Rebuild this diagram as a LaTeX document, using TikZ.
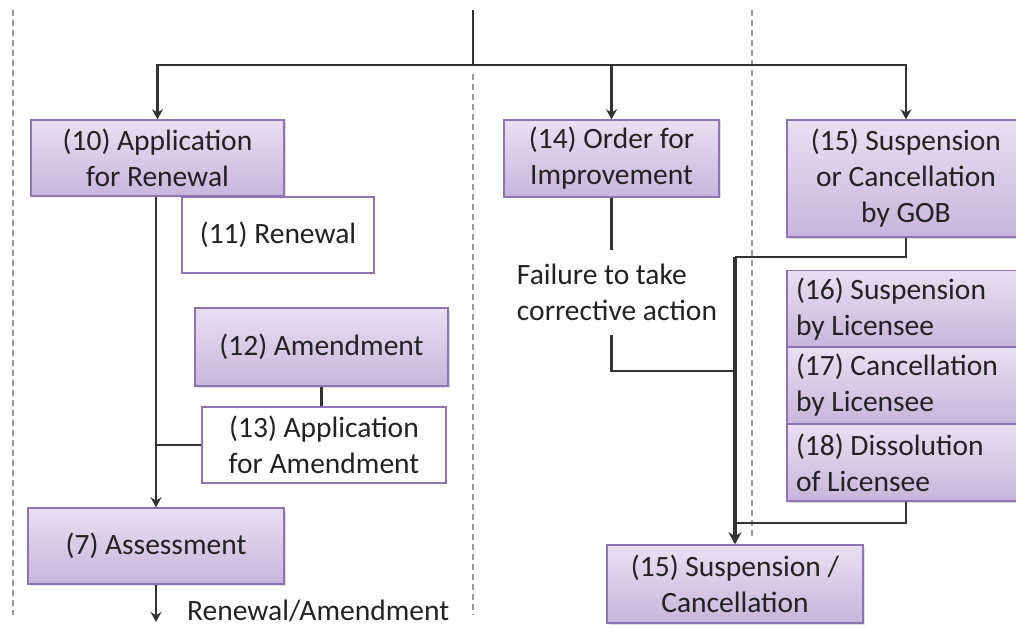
\documentclass[tikz,border=0pt]{standalone}
\usepackage{fontspec}
\setmainfont{Carlito}
\usetikzlibrary{arrows.meta,shadows}
\definecolor{boxedge}{HTML}{8E74B4}
\definecolor{boxtop}{HTML}{E8E0F1}
\definecolor{boxbot}{HTML}{C7B5DC}
\definecolor{wire}{HTML}{333333}
\definecolor{divider}{HTML}{9A9A9A}
\definecolor{ink}{HTML}{222222}
\tikzset{
  textfont/.style={font=\fontsize{29.5}{36}\selectfont},
  base/.style={draw=boxedge, line width=1.4pt, inner sep=0pt, align=center,
    text=ink, textfont},
  filledbox/.style={base, top color=boxtop, bottom color=boxbot,
    drop shadow={shadow xshift=1.5pt, shadow yshift=-1.5pt, opacity=0.25}},
  plainbox/.style={base, fill=white},
  stackbox/.style={filledbox, align=flush left, text width=220pt, inner xsep=9pt,
    minimum width=238pt, minimum height=77pt},
  wireline/.style={draw=wire, line width=2.1pt},
  arrowline/.style={wireline, -{Stealth[length=10pt,width=11pt]}},
  mainarrow/.style={draw=wire, line width=3.6pt, -{Stealth[length=12pt,width=13pt]}},
  dividerline/.style={draw=divider, line width=1.3pt, dash pattern=on 6pt off 4pt},
  label/.style={text=ink, textfont, align=left, inner sep=0pt}
}
\begin{document}
\begin{tikzpicture}[x=1pt, y=-1pt]
\useasboundingbox (0,0) rectangle (1016,628);

% column dividers
\draw[dividerline] (13,10) -- (13,615);
\draw[dividerline] (473,74) -- (473,615);
\draw[dividerline] (752,10) -- (752,540);

% boxes
\node[filledbox, minimum width=253pt, minimum height=76pt] (n10) at (157.5,158) {(10) Application\\for Renewal};
\node[plainbox, minimum width=192pt, minimum height=76pt] (n11) at (278,235) {(11) Renewal};
\node[filledbox, minimum width=253pt, minimum height=78pt] (n12) at (321.5,347) {(12) Amendment};
\node[plainbox, minimum width=244pt, minimum height=76pt] (n13) at (324,445) {(13) Application\\for Amendment};
\node[filledbox, minimum width=256pt, minimum height=76pt] (n7) at (156,546) {(7) Assessment};
\node[filledbox, minimum width=215pt, minimum height=77pt] (n14) at (611.5,158.5) {(14) Order for\\Improvement};
\node[filledbox, minimum width=238pt, minimum height=117pt] (n15g) at (906,178.5) {(15) Suspension\\or Cancellation\\by GOB};
\node[stackbox] (n16) at (906,309) {(16) Suspension\\by Licensee};
\node[stackbox] (n17) at (906,385.5) {(17) Cancellation\\by Licensee};
\node[stackbox] (n18) at (906,462.5) {(18) Dissolution\\of Licensee};
\node[filledbox, minimum width=256pt, minimum height=78pt] (n15s) at (735,584) {(15) Suspension /\\Cancellation};

% free labels
\node[label, minimum height=85pt] (fail) at (617,292.5) {Failure to take\\corrective action};
\node[label, anchor=west] (outlabel) at (187,611) {Renewal/Amendment};

% junction points
\coordinate (top) at (473,10);
\coordinate (split) at (473,65);
\coordinate (j0) at (735,257);
\coordinate (j1) at (735,371);
\coordinate (j2) at (735,523);
\coordinate (out) at (156,622);

% top branching
\draw[wireline] (top) -- (split);
\draw[arrowline] (split) -| (n10.north);
\draw[arrowline] (split) -| (n14.north);
\draw[arrowline] (split) -| (n15g.north);

% left column
\draw[arrowline] (n10.south -| n7.north) -- (n7.north);
\draw[wireline] (n12.south) -- (n12.south |- n13.north);
\draw[wireline] (n13.west) -- (n13.west -| n7.north);
\draw[arrowline] (n7.south) -- (out);

% middle and right columns
\draw[wireline] (n14.south) -- (n14.south |- fail.north);
\draw[wireline] (fail.south -| n14.south) |- (j1);
\draw[wireline] (n15g.south) |- (j0);
\draw[wireline] (n18.south) |- (j2);
\draw[mainarrow] (j0) -- (n15s.north);
\end{tikzpicture}
\end{document}
